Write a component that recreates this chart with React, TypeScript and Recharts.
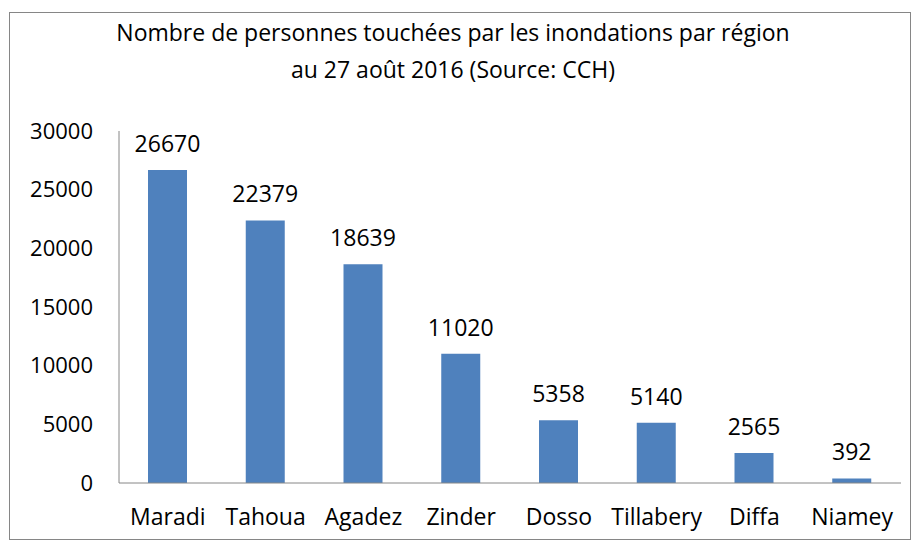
import React from "react";
import { Bar, BarChart, LabelList, XAxis, YAxis } from "recharts";

const regions = ["Maradi", "Tahoua", "Agadez", "Zinder", "Dosso", "Tillabery", "Diffa", "Niamey"];
const personnes = [26670, 22379, 18639, 11020, 5358, 5140, 2565, 392];
const yTicks = [0, 5000, 10000, 15000, 20000, 25000, 30000];

const data = regions.map((region, i) => ({ region, value: personnes[i] }));

const font = "'Open Sans', sans-serif";
const fs = 23;

export default function App() {
  return (
    <div style={{ position: "absolute", left: 0, top: 0, width: 917, height: 542, background: "#fff", fontFamily: font }}>
      <div
        style={{
          position: "absolute",
          left: 9,
          top: 12,
          width: 902,
          height: 528,
          border: "1px solid #868686",
          boxSizing: "border-box",
        }}
      />
      <div
        style={{
          position: "absolute",
          left: 0,
          top: 14,
          width: 906,
          textAlign: "center",
          fontSize: fs,
          lineHeight: "37px",
          color: "#000",
        }}
      >
        Nombre de personnes touchées par les inondations par région
        <br />
        au 27 août 2016 (Source: CCH)
      </div>
      <div style={{ position: "absolute", left: 0, top: 0 }}>
        <BarChart
          width={917}
          height={542}
          data={data}
          margin={{ top: 131, right: 16, bottom: 0, left: 0 }}
        >
          <YAxis
            width={119}
            domain={[0, 30000]}
            ticks={yTicks}
            interval={0}
            tickLine={false}
            tickSize={0}
            tickMargin={26}
            stroke="#868686"
            tick={{ fill: "#000", fontSize: 22, fontFamily: font }}
          />
          <XAxis
            dataKey="region"
            height={59}
            interval={0}
            tickLine={false}
            tickSize={0}
            tickMargin={26}
            stroke="#868686"
            tick={{ fill: "#000", fontSize: fs, fontFamily: font }}
          />
          <Bar dataKey="value" fill="#4F81BD" barSize={39} isAnimationActive={false}>
            <LabelList dataKey="value" position="top" offset={18} fill="#000" fontSize={fs} fontFamily={font} />
          </Bar>
        </BarChart>
      </div>
    </div>
  );
}
